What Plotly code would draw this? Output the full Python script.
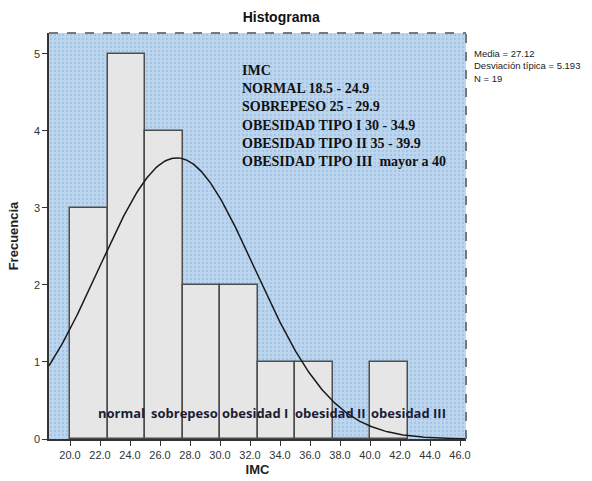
import numpy as np
import plotly.graph_objects as go

# ---- data ----
bin_edges = [20.0, 22.5, 25.0, 27.5, 30.0, 32.5, 35.0, 37.5, 40.0, 42.5]
counts = [3, 5, 4, 2, 2, 1, 1, 0, 1]
media = 27.12
desv = 5.193
n = 19
bin_width = 2.5
x_ticks = [20, 22, 24, 26, 28, 30, 32, 34, 36, 38, 40, 42, 44, 46]
y_ticks = [0, 1, 2, 3, 4, 5]
category_labels = ["normal", "sobrepeso", "obesidad I", "obesidad II", "obesidad III"]
category_x = [23.4, 27.6, 32.35, 37.35, 42.55]
legend_lines = ["IMC", "NORMAL 18.5 - 24.9", "SOBREPESO 25 - 29.9",
                "OBESIDAD TIPO I 30 - 34.9", "OBESIDAD TIPO II 35 - 39.9",
                "OBESIDAD TIPO III  mayor a 40"]
x_range = [18.6, 46.4]
y_range = [0, 5.27]

fig = go.Figure()

# patterned background (on base axes)
fig.add_trace(go.Scatter(
    x=[x_range[0], x_range[1], x_range[1], x_range[0], x_range[0]],
    y=[y_range[0], y_range[0], y_range[1], y_range[1], y_range[0]],
    fill="toself", mode="none", hoverinfo="skip", showlegend=False,
    fillcolor="#bcd6f0",
    fillpattern=dict(shape=".", fgcolor="#8eafd3", bgcolor="#bcd6f0", size=4, solidity=0.25),
    xaxis="x", yaxis="y",
))

centers = [(bin_edges[i] + bin_edges[i + 1]) / 2 for i in range(len(counts))]
fig.add_trace(go.Bar(
    x=centers, y=counts, width=bin_width,
    marker=dict(color="#e6e6e6", line=dict(color="#4d4d4d", width=1.5)),
    showlegend=False, xaxis="x2", yaxis="y2",
))

xs = np.linspace(x_range[0], x_range[1], 300)
ys = n * bin_width / (desv * np.sqrt(2 * np.pi)) * np.exp(-0.5 * ((xs - media) / desv) ** 2)
fig.add_trace(go.Scatter(x=xs, y=ys, mode="lines", line=dict(color="#1a1a1a", width=1.5),
                         showlegend=False, hoverinfo="skip", xaxis="x2", yaxis="y2"))

annotations = []
for lab, cx in zip(category_labels, category_x):
    annotations.append(dict(x=cx, y=0.34, xref="x2", yref="y2", text="<b>" + lab + "</b>",
                            showarrow=False,
                            font=dict(family="Open Sans", size=13, color="#1c1c34"),
                            xanchor="center", yanchor="middle"))

annotations.append(dict(
    x=0.457, y=0.93, xref="paper", yref="paper", xanchor="left", yanchor="top",
    text="<br>".join("<b>" + l + "</b>" for l in legend_lines), align="left", showarrow=False,
    font=dict(family="Liberation Serif", size=14, color="#111111")))
annotations.append(dict(
    x=1.014, y=0.968, xref="paper", yref="paper", xanchor="left", yanchor="top",
    text="Media = 27.12<br>Desviación típica = 5.193<br>N = 19", align="left", showarrow=False,
    font=dict(family="Liberation Sans", size=9.5, color="#222222")))

fig.update_layout(
    width=592, height=481,
    margin=dict(l=49, r=126, t=33, b=42),
    paper_bgcolor="white", plot_bgcolor="#bcd6f0",
    title=dict(text="<b>Histograma</b>", x=0.475, xanchor="center", y=0.975, yanchor="top",
               font=dict(family="Liberation Sans", size=14, color="#111111")),
    bargap=0, annotations=annotations,
    xaxis=dict(range=x_range, tickvals=x_ticks, ticktext=[f"{v:.1f}" for v in x_ticks],
               showgrid=False, zeroline=False, ticks="outside", ticklen=5, tickcolor="#333",
               showline=True, linecolor="#333", linewidth=1.5, automargin=False,
               tickfont=dict(family="Liberation Sans", size=11, color="#333"),
               title=dict(text="<b>IMC</b>", standoff=5,
                          font=dict(family="Liberation Sans", size=13, color="#222"))),
    yaxis=dict(range=y_range, tickvals=y_ticks, showgrid=False, zeroline=False,
               ticks="outside", ticklen=5, tickcolor="#333", automargin=False,
               showline=True, linecolor="#333", linewidth=1.5,
               tickfont=dict(family="Liberation Sans", size=11, color="#333"),
               title=dict(text="<b>Frecuencia</b>", standoff=12,
                          font=dict(family="Liberation Sans", size=13, color="#222"))),
    xaxis2=dict(range=x_range, overlaying="x", visible=False, showgrid=False, zeroline=False),
    yaxis2=dict(range=y_range, overlaying="y", visible=False, showgrid=False, zeroline=False),
    shapes=[
        dict(type="line", xref="paper", yref="paper", x0=0, x1=1, y0=1, y1=1,
             line=dict(color="#777777", width=2, dash="dash"), layer="above"),
        dict(type="line", xref="paper", yref="paper", x0=1, x1=1, y0=0, y1=1,
             line=dict(color="#777777", width=2, dash="dash"), layer="above"),
    ],
)

fig.write_html("out.html")
